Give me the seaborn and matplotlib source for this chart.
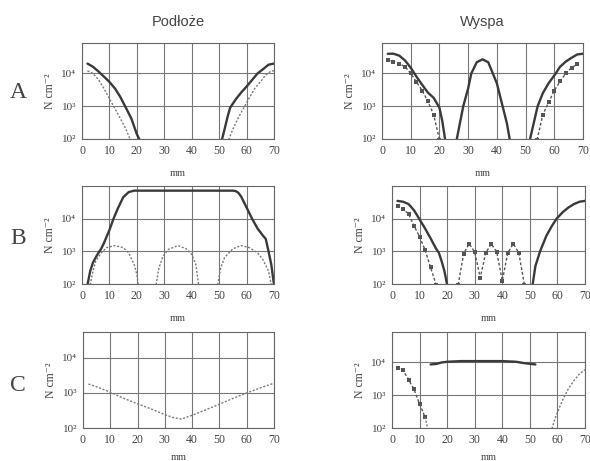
import numpy as np
import pandas as pd
import matplotlib
matplotlib.use("Agg")
import matplotlib.pyplot as plt
from matplotlib.ticker import NullLocator
import seaborn as sns

# -------------------------------
# Data (x in mm, y in N cm^-2)
# -------------------------------

# Row A, Podloze
a_pod_solid_l_x = [2, 4, 6, 8, 10, 12, 14, 16, 18, 20, 21]
a_pod_solid_l_y = [2.0e4, 1.6e4, 1.15e4, 8e3, 5.5e3, 3.5e3, 1.9e3, 900, 420, 140, 95]
a_pod_solid_r_x = [51, 52, 53, 54, 56, 58, 60, 62, 64, 66, 68, 70]
a_pod_solid_r_y = [95, 200, 450, 900, 1.6e3, 2.6e3, 4e3, 6.3e3, 1e4, 1.35e4, 1.85e4, 2e4]
a_pod_dot_l_x = [2, 4, 6, 8, 10, 12, 14, 16, 17.6]
a_pod_dot_l_y = [1.2e4, 1e4, 6.5e3, 3.5e3, 1.7e3, 850, 420, 200, 95]
a_pod_dot_r_x = [53.5, 55, 57, 59, 61, 63, 65, 67, 69, 70]
a_pod_dot_r_y = [95, 200, 450, 900, 1.8e3, 3.5e3, 5.5e3, 9e3, 1.2e4, 1.2e4]

# Row A, Wyspa
a_wys_solid_l_x = [2, 4, 6, 8, 10, 12, 14, 16, 18, 20, 21, 22]
a_wys_solid_l_y = [4e4, 4e4, 3.5e4, 2.5e4, 1.5e4, 8e3, 4.5e3, 2.6e3, 1.8e3, 900, 350, 95]
a_wys_solid_m_x = [26, 28.3, 30, 31.1, 33, 35, 37, 38.6, 40, 42, 43.5, 44.5]
a_wys_solid_m_y = [95, 1e3, 3.5e3, 1e4, 2.2e4, 2.7e4, 2.2e4, 1e4, 5e3, 1e3, 300, 95]
a_wys_solid_r_x = [51.5, 54.2, 56, 58, 60.5, 62, 64, 66, 68, 70]
a_wys_solid_r_y = [95, 1e3, 2.5e3, 5e3, 1e4, 1.6e4, 2.3e4, 3e4, 3.8e4, 4e4]
a_wys_sq_l_x = [2, 4, 6, 8, 10, 12, 14, 16, 18, 20]
a_wys_sq_l_y = [2.5e4, 2.3e4, 2e4, 1.6e4, 1e4, 5.5e3, 3e3, 1.4e3, 550, 95]
a_wys_sq_r_x = [54, 56, 58, 60, 62, 64, 66, 68]
a_wys_sq_r_y = [95, 550, 1.3e3, 3e3, 5.7e3, 1e4, 1.5e4, 1.9e4]

# Row B, Podloze
b_pod_solid_x = [2, 3, 4, 5, 6, 7, 8, 10, 11.5, 13, 15, 17, 19, 55, 56, 57, 58, 60,
                 62, 64, 66, 67, 68, 69, 70]
b_pod_solid_y = [95, 250, 450, 650, 900, 1.2e3, 1.8e3, 4.5e3, 1e4, 2e4, 4.5e4, 6.5e4,
                 7.2e4, 7.2e4, 7e4, 6.2e4, 4.8e4, 2.2e4, 1e4, 5e3, 3e3, 2.4e3, 1e3, 400, 95]
b_pod_dot1_x = [3, 4, 5, 7, 9, 12, 15, 17, 19, 20, 20.5]
b_pod_dot1_y = [95, 250, 500, 900, 1.3e3, 1.5e3, 1.3e3, 900, 400, 200, 95]
b_pod_dot2_x = [27, 28, 29.5, 31.5, 35, 38, 40, 41.5, 42.5]
b_pod_dot2_y = [95, 300, 700, 1.15e3, 1.5e3, 1.2e3, 800, 400, 95]
b_pod_dot3_x = [49.5, 50.5, 52, 55, 58, 61, 64, 66, 68, 69]
b_pod_dot3_y = [95, 300, 650, 1.2e3, 1.5e3, 1.3e3, 900, 550, 250, 95]

# Row B, Wyspa
b_wys_solid_l_x = [2, 4, 6, 8, 10, 12, 14, 16, 17, 18, 19, 20]
b_wys_solid_l_y = [3.5e4, 3.3e4, 2.8e4, 1.8e4, 9.5e3, 5e3, 2.5e3, 1.2e3, 900, 500, 250, 95]
b_wys_solid_r_x = [51, 52, 53.7, 56, 58, 59.7, 62, 64, 66, 68, 70]
b_wys_solid_r_y = [95, 350, 1e3, 3e3, 6e3, 1e4, 1.6e4, 2.2e4, 2.8e4, 3.3e4, 3.5e4]
b_wys_sq_l_x = [2, 4, 6, 8, 10, 12, 14, 16]
b_wys_sq_l_y = [2.4e4, 2e4, 1.4e4, 6e3, 2.8e3, 1.1e3, 320, 95]
b_wys_sq_m_x = [24, 26, 28, 30, 32, 34, 36, 38, 40, 42, 44, 46, 48]
b_wys_sq_m_y = [95, 850, 1.7e3, 950, 155, 900, 1.7e3, 950, 125, 900, 1.7e3, 900, 95]

# Row C, Podloze
c_pod_dot_x = [2, 5, 10, 15, 20, 25, 30, 33, 36, 40, 45, 50, 55, 60, 65, 70]
c_pod_dot_y = [1.8e3, 1.5e3, 1.05e3, 700, 490, 350, 240, 200, 180, 230, 330, 480,
               700, 1e3, 1.4e3, 1.9e3]

# Row C, Wyspa
c_wys_solid_x = [14, 16, 18, 20, 25, 30, 35, 40, 45, 48, 52]
c_wys_solid_y = [8.7e3, 9e3, 1e4, 1.05e4, 1.1e4, 1.1e4, 1.1e4, 1.1e4, 1.05e4, 9.5e3, 8.7e3]
c_wys_sq_x = [2, 4, 6, 8, 10, 12]
c_wys_sq_y = [6.9e3, 5.8e3, 3e3, 1.5e3, 540, 215]
c_wys_dot_l_x = [12, 13]
c_wys_dot_l_y = [215, 95]
c_wys_dot_r_x = [58, 59, 60, 62, 64, 66, 68, 70]
c_wys_dot_r_y = [95, 180, 300, 750, 1.6e3, 2.8e3, 4.5e3, 6e3]

col_titles = ["Podłoże", "Wyspa"]
row_labels = ["A", "B", "C"]
x_ticks = [0, 10, 20, 30, 40, 50, 60, 70]
y_ticks = [100, 1000, 10000]
y_tick_labels = ["10²", "10³", "10⁴"]

# -------------------------------
# Style
# -------------------------------
sns.set_style("white")
plt.rcParams['font.family'] = ['Liberation Serif', 'DejaVu Serif']

SOLID = dict(color='#3a3a3a', linewidth=1.7)
DOT = dict(color='#7a7a7a', linewidth=1.0, linestyle=(0, (1.5, 1.2)))
SQ = dict(color='#555555', linewidth=1.0, linestyle=(0, (2, 1.5)),
          marker='s', markersize=2.5, markeredgewidth=0)


def draw(ax, x, y, style):
    df = pd.DataFrame({'mm': x, 'N': y})
    sns.lineplot(data=df, x='mm', y='N', ax=ax, **style)


fig = plt.figure(figsize=(5.9, 4.61), dpi=100)

# axes boxes in pixels: left, top, right, bottom
boxes = [
    [(82, 43, 274, 139), (382, 43, 583, 139)],
    [(82, 186, 274, 284), (392, 186, 585, 284)],
    [(83, 332, 274, 428), (392, 332, 585, 428)],
]
y_tops = [[8.5e4, 8.5e4], [1e5, 1e5], [5.5e4, 8.5e4]]

axes = []
for r in range(3):
    row = []
    for c in range(2):
        l, t, rr, b = boxes[r][c]
        ax = fig.add_axes([l / 590, 1 - b / 461, (rr - l) / 590, (b - t) / 461])
        row.append(ax)
    axes.append(row)

# Row A
draw(axes[0][0], a_pod_solid_l_x, a_pod_solid_l_y, SOLID)
draw(axes[0][0], a_pod_solid_r_x, a_pod_solid_r_y, SOLID)
draw(axes[0][0], a_pod_dot_l_x, a_pod_dot_l_y, DOT)
draw(axes[0][0], a_pod_dot_r_x, a_pod_dot_r_y, DOT)
draw(axes[0][1], a_wys_solid_l_x, a_wys_solid_l_y, SOLID)
draw(axes[0][1], a_wys_solid_m_x, a_wys_solid_m_y, SOLID)
draw(axes[0][1], a_wys_solid_r_x, a_wys_solid_r_y, SOLID)
draw(axes[0][1], a_wys_sq_l_x, a_wys_sq_l_y, SQ)
draw(axes[0][1], a_wys_sq_r_x, a_wys_sq_r_y, SQ)

# Row B
draw(axes[1][0], b_pod_solid_x, b_pod_solid_y, SOLID)
draw(axes[1][0], b_pod_dot1_x, b_pod_dot1_y, DOT)
draw(axes[1][0], b_pod_dot2_x, b_pod_dot2_y, DOT)
draw(axes[1][0], b_pod_dot3_x, b_pod_dot3_y, DOT)
draw(axes[1][1], b_wys_solid_l_x, b_wys_solid_l_y, SOLID)
draw(axes[1][1], b_wys_solid_r_x, b_wys_solid_r_y, SOLID)
draw(axes[1][1], b_wys_sq_l_x, b_wys_sq_l_y, SQ)
draw(axes[1][1], b_wys_sq_m_x, b_wys_sq_m_y, SQ)

# Row C
draw(axes[2][0], c_pod_dot_x, c_pod_dot_y, DOT)
draw(axes[2][1], c_wys_solid_x, c_wys_solid_y, SOLID)
draw(axes[2][1], c_wys_sq_x, c_wys_sq_y, SQ)
draw(axes[2][1], c_wys_dot_l_x, c_wys_dot_l_y, DOT)
draw(axes[2][1], c_wys_dot_r_x, c_wys_dot_r_y, DOT)

for r in range(3):
    for c in range(2):
        ax = axes[r][c]
        ax.set_yscale('log')
        ax.set_xlim(0, 70)
        ax.set_ylim(100, y_tops[r][c])
        ax.set_xticks(x_ticks)
        ax.set_xticklabels([str(v) for v in x_ticks], fontsize=8.5, color='#444444')
        ax.set_yticks(y_ticks)
        ax.set_yticklabels(y_tick_labels, fontsize=8, color='#444444')
        ax.yaxis.set_minor_locator(NullLocator())
        ax.tick_params(length=2, color='#666666', pad=2)
        ax.grid(True, color='#777777', linewidth=0.8)
        for s in ax.spines.values():
            s.set_color('#666666')
            s.set_linewidth(0.8)
        ax.set_xlabel('mm', fontsize=7.5, color='#444444', labelpad=5 if r == 2 else 9)
        ax.set_ylabel('N cm⁻²', fontsize=8.5, color='#444444', labelpad=4)

for c in range(2):
    l, t, rr, b = boxes[0][c]
    fig.text((l + rr) / 2 / 590, 1 - 22 / 461, col_titles[c],
             ha='center', va='center', fontsize=10.5, color='#444444',
             family=['Liberation Sans', 'DejaVu Sans'])

for r, y in enumerate([93, 238, 385]):
    fig.text(18 / 590, 1 - y / 461, row_labels[r], ha='center', va='center',
             fontsize=17, color='#444444')

fig.savefig('out.png', dpi=100)
